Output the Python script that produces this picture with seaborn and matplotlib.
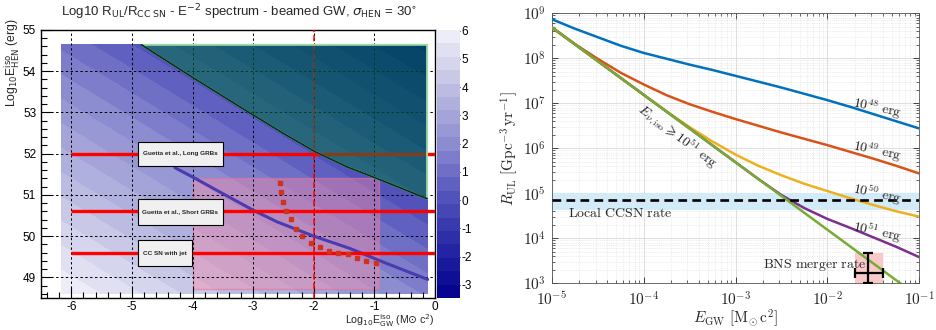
import numpy as np
import pandas as pd
import matplotlib
matplotlib.use("Agg")
import matplotlib.pyplot as plt
import seaborn as sns
from matplotlib.colors import LinearSegmentedColormap
from matplotlib.patches import Rectangle, Polygon
from matplotlib.ticker import MultipleLocator, FixedLocator, FixedFormatter, LogLocator, NullFormatter

# ---------------- data: left panel ----------------
HEAT_X = [-6.16, -5, -4, -3, -2, -1, -0.13]
HEAT_Y = [48.61, 49, 50, 51, 52, 53, 54, 54.64]
HEAT_Z = [
    [6.00, 5.17, 4.45, 3.73, 3.01, 2.29, 1.67],
    [5.68, 4.85, 4.13, 3.41, 2.69, 1.97, 1.35],
    [4.88, 4.05, 3.33, 2.61, 1.89, 1.17, 0.55],
    [4.08, 3.25, 2.53, 1.81, 1.09, 0.37, -0.25],
    [3.28, 2.45, 1.73, 1.01, 0.29, -0.43, -1.05],
    [2.48, 1.65, 0.93, 0.21, -0.51, -1.23, -1.85],
    [1.68, 0.85, 0.13, -0.59, -1.31, -2.03, -2.65],
    [1.16, 0.33, -0.39, -1.11, -1.83, -2.55, -3.17],
]
Z_MIN, Z_MAX = -3.46, 6.02

TEAL_X = [-4.84, -4.02, -3.20, -3.0, -2.5, -1.98, -1.45, -0.96, -0.13]
TEAL_Y = [54.64, 53.87, 53.12, 52.94, 52.49, 52.05, 51.68, 51.40, 50.91]

HEN_X = [-4.29, -3.93, -3.66, -3.0, -2.61, -2.0, -1.4, -0.8, -0.12]
HEN_Y = [51.66, 51.38, 51.16, 50.63, 50.35, 50.0, 49.70, 49.34, 48.95]

DOTS_X = [-2.55, -2.54, -2.51, -2.45, -2.37, -2.30, -2.19, -2.05, -1.90, -1.75, -1.60, -1.44, -1.28, -1.13, -0.98]
DOTS_Y = [51.30, 51.08, 50.83, 50.61, 50.41, 50.17, 50.00, 49.84, 49.74, 49.64, 49.59, 49.56, 49.48, 49.40, 49.36]

GRB_LEVELS = [52.0, 50.6, 49.6]
GRB_LABELS = ["Guetta et al., Long GRBs", "Guetta et al., Short GRBs", "CC SN with jet"]
GRB_BOXES = [(-4.90, 51.70, -3.50, 52.29), (-4.90, 50.28, -3.50, 50.89), (-4.90, 49.28, -4.01, 49.90)]
PINK_BOX = (-4.0, 48.73, -0.93, 51.41)

# ---------------- data: right panel (log10 values) ----------------
LOG_E = [-5, -4.75, -4.5, -4.25, -4, -3.75, -3.5, -3.25, -3, -2.75, -2.5, -2.25, -2, -1.75, -1.5, -1.25, -1]
R_1E48 = [8.87, 8.66, 8.47, 8.28, 8.12, 7.99, 7.86, 7.74, 7.61, 7.48, 7.35, 7.21, 7.07, 6.92, 6.76, 6.60, 6.44]
R_1E49 = [8.69, 8.32, 7.99, 7.68, 7.42, 7.18, 6.98, 6.81, 6.65, 6.50, 6.35, 6.21, 6.07, 5.92, 5.77, 5.61, 5.44]
R_1E50 = [8.69, 8.315, 7.94, 7.565, 7.19, 6.82, 6.47, 6.15, 5.86, 5.61, 5.40, 5.21, 5.05, 4.89, 4.74, 4.60, 4.48]
R_1E51 = [8.69, 8.315, 7.94, 7.565, 7.19, 6.815, 6.44, 6.065, 5.69, 5.315, 4.96, 4.67, 4.43, 4.23, 4.02, 3.81, 3.58]
ASYM_E = [-5, -4, -3, -2, -1.2]
R_ASYM = [8.69, 7.19, 5.69, 4.19, 2.99]

CURVES = {
    "1e48": (LOG_E, R_1E48),
    "1e49": (LOG_E, R_1E49),
    "1e50": (LOG_E, R_1E50),
    "1e51": (LOG_E, R_1E51),
    "asym": (ASYM_E, R_ASYM),
}
CURVE_COLORS = {"1e48": "#0072BD", "1e49": "#D95319", "1e50": "#EDB120",
                "1e51": "#7E2F8E", "asym": "#77AC30"}
CCSN_RATE_LOG = 4.85
CCSN_BAND_LOG = (4.63, 5.0)
BNS_X_LOG = (-1.70, -1.555, -1.40)
BNS_Y_LOG = (3.0, 3.22, 3.68)

X_TICKS_LOG = [-5, -4, -3, -2, -1]
Y_TICKS_LOG = [3, 4, 5, 6, 7, 8, 9]

# ---------------- style ----------------
sns.set_style("ticks")
plt.rcParams['font.family'] = ['Liberation Sans', 'DejaVu Sans']
plt.rcParams['axes.unicode_minus'] = False
plt.rcParams['mathtext.fontset'] = 'cm'

fig = plt.figure(figsize=(9.36, 3.30), dpi=100)
axL = fig.add_axes([0.0438, 0.0970, 0.4209, 0.8121])
cax = fig.add_axes([0.4669, 0.0970, 0.0246, 0.8121])
axR = fig.add_axes([0.5894, 0.1415, 0.3928, 0.8182])

# ---------------- left panel ----------------
cmap = LinearSegmentedColormap.from_list(
    "root_blue",
    [(0.0, (0.0, 0.0, 0.55)),
     (0.154, (0.12, 0.12, 0.63)),
     (0.366, (0.31, 0.31, 0.73)),
     (0.577, (0.55, 0.55, 0.82)),
     (0.788, (0.75, 0.75, 0.89)),
     (1.0, (0.95, 0.95, 0.98))])
levels = np.linspace(Z_MIN, Z_MAX, 21)
cs = axL.contourf(HEAT_X, HEAT_Y, np.array(HEAT_Z), levels=levels, cmap=cmap, zorder=0)

px0, py0, px1, py1 = PINK_BOX
axL.add_patch(Rectangle((px0, py0), px1 - px0, py1 - py0, facecolor=(1.0, 0.55, 0.65, 0.4),
                        edgecolor=(0.9, 0.45, 0.6, 0.6), lw=1, zorder=1))

axL.set_xlim(-6.5, 0)
axL.set_ylim(48.5, 55)
axL.xaxis.set_major_locator(MultipleLocator(1))
axL.xaxis.set_minor_locator(MultipleLocator(0.2))
axL.yaxis.set_major_locator(MultipleLocator(1))
axL.yaxis.set_minor_locator(MultipleLocator(0.2))
axL.tick_params(which='both', direction='in', top=False, right=False, colors='black', labelsize=8.5)
axL.tick_params(which='major', length=8, width=0.8)
axL.tick_params(which='minor', length=4, width=0.8)
axL.tick_params(axis='x', pad=2)
axL.set_axisbelow(False)
axL.grid(True, which='major', color='black', ls=(0, (2.5, 2.5)), lw=0.7)
for s in axL.spines.values():
    s.set_color('black'); s.set_linewidth(1.0)

sns.lineplot(x=HEN_X, y=HEN_Y, ax=axL, color='#4a3cb0', lw=2.2, sort=False, estimator=None, zorder=3)
axL.axvline(-2, color='red', ls=(0, (4, 2)), lw=1.1, zorder=3)
for lvl in GRB_LEVELS:
    axL.plot([-6, 0], [lvl, lvl], color='red', lw=2.4, solid_capstyle='butt', zorder=3.2)
axL.plot(DOTS_X, DOTS_Y, ls='none', marker='s', ms=3.3, color='#d2321c', zorder=3.5)

teal_poly = list(zip(TEAL_X, TEAL_Y)) + [(-0.13, 54.64)]
axL.add_patch(Polygon(teal_poly, closed=True, facecolor=(0.0, 0.49, 0.24, 0.5),
                      edgecolor=(0.6, 0.86, 0.66), lw=1.4, zorder=4))
axL.plot(TEAL_X, TEAL_Y, color='#06301c', lw=1.3, zorder=4.5)

for (x0, y0, x1, y1), lab in zip(GRB_BOXES, GRB_LABELS):
    axL.add_patch(Rectangle((x0, y0), x1 - x0, y1 - y0, facecolor='#f0f0f0',
                            edgecolor='black', lw=0.8, zorder=6))
    axL.text((x0 + x1) / 2, (y0 + y1) / 2, lab, ha='center', va='center',
             fontsize=4.6, fontweight='bold', zorder=7)

cb = fig.colorbar(cs, cax=cax, ticks=range(-3, 7))
cb.outline.set_visible(False)
cax.tick_params(direction='in', length=9, width=0.8, labelsize=8.5, pad=1, colors='black')

fig.text(0.256, 0.962,
         r'Log10 R$_{\rm UL}$/R$_{\rm CC\ SN}$ - E$^{-2}$ spectrum - beamed GW, $\sigma_{\rm HEN}$ = 30$^{\circ}$',
         ha='center', va='center', fontsize=9.5, math_fontfamily='dejavusans')
fig.text(0.0128, 0.81, r'Log$_{10}$E$^{\rm iso}_{\rm HEN}$ (erg)', rotation=90,
         ha='center', va='center', fontsize=8.7, math_fontfamily='dejavusans')
fig.text(0.4647, 0.028, r'Log$_{10}$E$^{\rm iso}_{\rm GW}$ (M$\odot$ c$^{2}$)',
         ha='right', va='center', fontsize=7.6, math_fontfamily='dejavusans')

# ---------------- right panel ----------------
rows = []
for name, (xs, ys) in CURVES.items():
    for xv, yv in zip(xs, ys):
        rows.append({"E": 10.0 ** xv, "R": 10.0 ** yv, "curve": name})
df = pd.DataFrame(rows)
axR.axhspan(10 ** CCSN_BAND_LOG[0], 10 ** CCSN_BAND_LOG[1], color='#d3eaf8', lw=0, zorder=0.6)
sns.lineplot(data=df, x="E", y="R", hue="curve", palette=CURVE_COLORS, hue_order=list(CURVES.keys()),
             lw=1.8, sort=False, estimator=None, legend=False, ax=axR, zorder=3)
axR.set_xscale('log'); axR.set_yscale('log')
axR.set_xlim(1e-5, 1e-1); axR.set_ylim(1e3, 1e9)
axR.axhline(10 ** CCSN_RATE_LOG, color='black', ls=(0, (3.3, 2)), lw=1.9, zorder=4)

bx0, bxc, bx1 = [10 ** v for v in BNS_X_LOG]
by0, byc, by1 = [10 ** v for v in BNS_Y_LOG]
axR.add_patch(Rectangle((bx0, by0), bx1 - bx0, by1 - by0, facecolor='#f9c9c9', lw=0, zorder=1))
axR.errorbar([bxc], [byc], xerr=[[bxc - bx0], [bx1 - bxc]], yerr=[[byc - by0], [by1 - byc]],
             fmt='none', ecolor='black', elinewidth=1.6, capsize=3.5, capthick=1.6, zorder=5)

axR.xaxis.set_major_locator(FixedLocator([10.0 ** v for v in X_TICKS_LOG]))
axR.xaxis.set_major_formatter(FixedFormatter([r'$10^{%d}$' % v for v in X_TICKS_LOG]))
axR.yaxis.set_major_locator(FixedLocator([10.0 ** v for v in Y_TICKS_LOG]))
axR.yaxis.set_major_formatter(FixedFormatter([r'$10^{%d}$' % v for v in Y_TICKS_LOG]))
axR.xaxis.set_minor_locator(LogLocator(base=10, subs=np.arange(2, 10), numticks=20))
axR.yaxis.set_minor_locator(LogLocator(base=10, subs=np.arange(2, 10), numticks=20))
axR.xaxis.set_minor_formatter(NullFormatter()); axR.yaxis.set_minor_formatter(NullFormatter())
axR.tick_params(which='both', direction='in', top=True, right=True, labelsize=11, colors='#262626')
axR.tick_params(which='major', length=4, width=0.6)
axR.tick_params(which='minor', length=2, width=0.5)
axR.tick_params(axis='x', which='major', pad=5)
axR.tick_params(axis='y', which='major', pad=4)
axR.set_axisbelow(True)
axR.grid(True, which='major', color='#d9d9d9', lw=0.6, ls='-')
axR.grid(True, which='minor', color='#dcdcdc', lw=0.5, ls=':')
for s in axR.spines.values():
    s.set_color('#555555'); s.set_linewidth(0.6)

axR.set_xlabel(r'$E_{\rm GW}\ [\rm M_{\odot}\,c^{2}]$', fontsize=11)
axR.xaxis.set_label_coords(0.5, -0.088)
axR.set_ylabel(r'$R_{\rm UL}\ [\rm Gpc^{-3}\,yr^{-1}]$', fontsize=11, labelpad=2)

for txt, ylog in [(r'$10^{48}\ \rm erg$', 6.90), (r'$10^{49}\ \rm erg$', 5.93),
                  (r'$10^{50}\ \rm erg$', 4.99), (r'$10^{51}\ \rm erg$', 4.14)]:
    axR.text(10 ** -1.46, 10 ** ylog, txt, rotation=-12, ha='center', va='center', fontsize=10, zorder=6)
axR.text(10 ** -3.63, 10 ** 6.26, r'$E_{\nu,\rm iso} \geqslant 10^{51}\ \rm erg$', rotation=-37,
         ha='center', va='center', fontsize=10, zorder=6)
axR.text(10 ** -4.82, 10 ** 4.56, r'$\rm Local\ CCSN\ rate$', ha='left', va='center', fontsize=10, zorder=6)
axR.text(10 ** -1.58, 10 ** 3.40, r'$\rm BNS\ merger\ rate$', ha='right', va='center', fontsize=10, zorder=6)

fig.savefig("out.png", dpi=100)
